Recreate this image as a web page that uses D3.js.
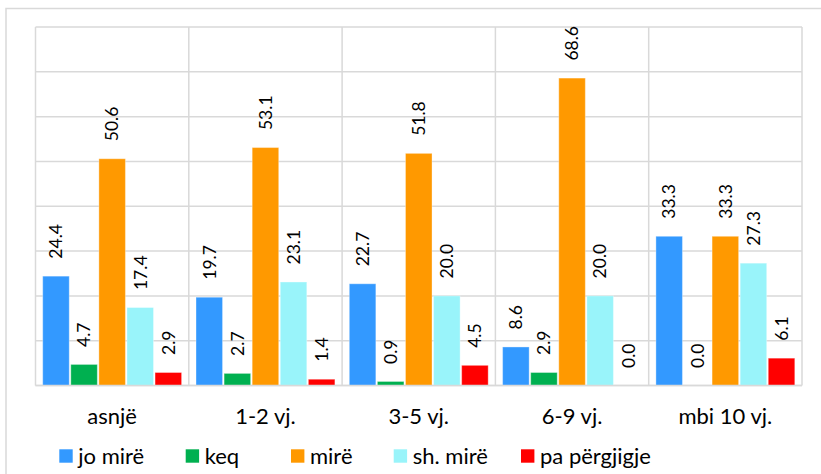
<!DOCTYPE html>
<html>
<head>
<meta charset="utf-8">
<script src="https://cdn.jsdelivr.net/npm/d3@7"></script>
<style>
  html, body { margin: 0; padding: 0; background: #fff; }
  svg { display: block; }
  text { font-family: Lato, "Open Sans", sans-serif; fill: #000; }
</style>
</head>
<body>
<svg id="chart" width="821" height="474"></svg>
<script>
// ---- data ----
const categories = ["asnjë", "1-2 vj.", "3-5 vj.", "6-9 vj.", "mbi 10 vj."];
const seriesNames = ["jo mirë", "keq", "mirë", "sh. mirë", "pa përgjigje"];
const joMire      = [24.4, 19.7, 22.7, 8.6, 33.3];
const keq         = [4.7, 2.7, 0.9, 2.9, 0.0];
const mire        = [50.6, 53.1, 51.8, 68.6, 33.3];
const shMire      = [17.4, 23.1, 20.0, 20.0, 27.3];
const paPergjigje = [2.9, 1.4, 4.5, 0.0, 6.1];
const yTicks      = [0, 10, 20, 30, 40, 50, 60, 70, 80];

const seriesValues = [joMire, keq, mire, shMire, paPergjigje];
const colors = ["#3399FF", "#00B050", "#FF9900", "#99F4FA", "#FF0000"];

// ---- layout ----
const svg = d3.select("#chart");
const plot = { left: 35.5, right: 802, top: 27, bottom: 385.5 };

// outer chart border
svg.append("rect")
  .attr("x", 6).attr("y", 8.5).attr("width", 900).attr("height", 600)
  .attr("fill", "none").attr("stroke", "#D9D9D9").attr("stroke-width", 1.5);

const x0 = d3.scaleBand().domain(categories).range([plot.left, plot.right]).padding(0);
const catPad = x0.bandwidth() * 0.047;
const x1 = d3.scaleBand().domain(seriesNames)
  .range([catPad, x0.bandwidth() - catPad]).paddingInner(0.055).paddingOuter(0);
const y = d3.scaleLinear().domain([0, 80]).range([plot.bottom, plot.top]);

// gridlines (horizontal)
const grid = svg.append("g");
grid.selectAll("line.h").data(yTicks).join("line")
  .attr("x1", plot.left).attr("x2", plot.right)
  .attr("y1", d => y(d)).attr("y2", d => y(d))
  .attr("stroke", "#D9D9D9").attr("stroke-width", 1.5);
// vertical category boundaries
const bounds = categories.map(c => x0(c)).concat([plot.right]);
grid.selectAll("line.v").data(bounds).join("line")
  .attr("x1", d => d).attr("x2", d => d)
  .attr("y1", plot.top).attr("y2", plot.bottom)
  .attr("stroke", "#D9D9D9").attr("stroke-width", 1.5);

// bars
const flat = [];
categories.forEach((c, ci) => {
  seriesNames.forEach((s, si) => {
    flat.push({ cat: c, ser: s, si: si, v: seriesValues[si][ci] });
  });
});

const barsG = svg.append("g");
barsG.selectAll("rect").data(flat).join("rect")
  .attr("x", d => x0(d.cat) + x1(d.ser))
  .attr("width", x1.bandwidth())
  .attr("y", d => y(d.v))
  .attr("height", d => y(0) - y(d.v))
  .attr("fill", d => colors[d.si])
  .attr("stroke", "#fff").attr("stroke-opacity", 0.35).attr("stroke-width", 1);

// bottom axis line on top
svg.append("line")
  .attr("x1", plot.left).attr("x2", plot.right)
  .attr("y1", y(0)).attr("y2", y(0))
  .attr("stroke", "#D9D9D9").attr("stroke-width", 1.5);

// value labels
const fmt = d3.format(".1f");
svg.append("g").selectAll("text").data(flat).join("text")
  .attr("transform", d => {
    const cx = x0(d.cat) + x1(d.ser) + x1.bandwidth() / 2;
    return `translate(${cx},${y(d.v) - 17.5}) rotate(-90)`;
  })
  .attr("dy", "0.36em")
  .attr("text-anchor", "start")
  .style("font-size", "17.5px")
  .text(d => fmt(d.v));

// category labels
const xAxis = d3.axisBottom(x0).tickSize(0).tickPadding(0);
const ax = svg.append("g").attr("transform", `translate(0,${plot.bottom})`).call(xAxis);
ax.select(".domain").remove();
ax.selectAll("text")
  .attr("y", 38.5).attr("dy", 0)
  .style("font-size", "22px")
  .style("font-family", "Lato, 'Open Sans', sans-serif")
  .attr("fill", "#000");

// legend
const legendX = [59.3, 185.7, 291, 393.7, 521];
const lg = svg.append("g").attr("transform", "translate(0,449.3)");
const items = lg.selectAll("g").data(seriesNames).join("g")
  .attr("transform", (d, i) => `translate(${legendX[i]},0)`);
items.append("rect")
  .attr("width", 13.4).attr("height", 13.4)
  .attr("fill", (d, i) => colors[i]);
items.append("text")
  .attr("x", 19).attr("y", 14.8)
  .style("font-size", "22px")
  .text(d => d);
</script>
</body>
</html>
